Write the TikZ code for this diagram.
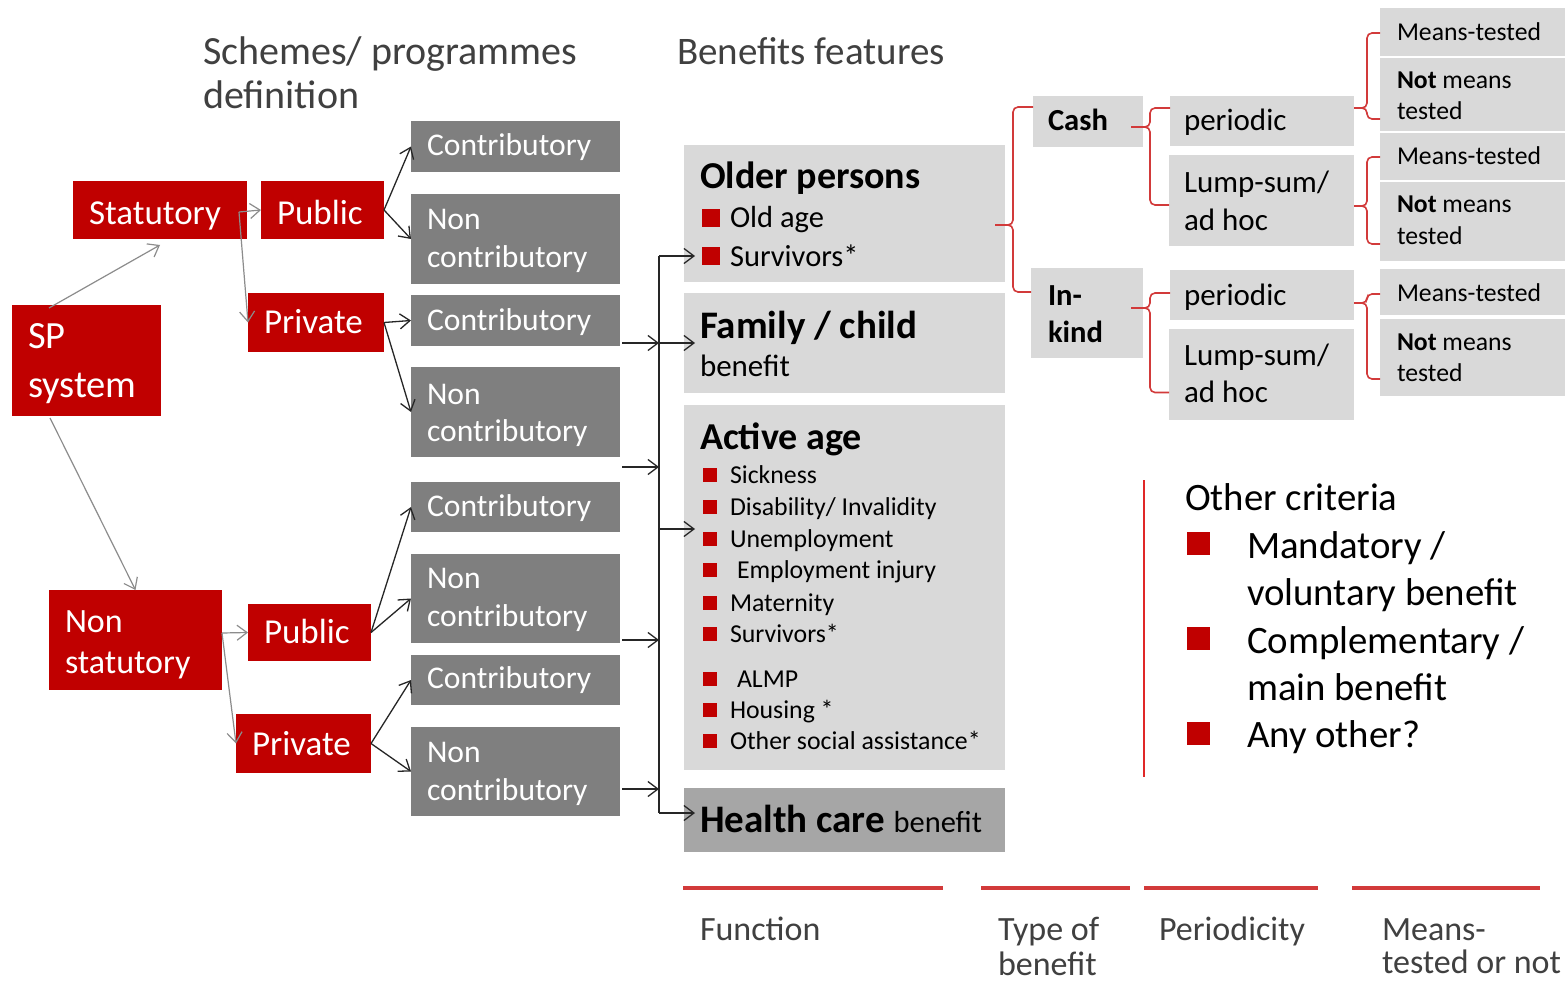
\documentclass[tikz,border=0pt]{standalone}
\usepackage{fontspec}
\setmainfont{Carlito}
\usetikzlibrary{arrows.meta,calc,fit}
\definecolor{boxred}{HTML}{C00000}
\definecolor{boxgrey}{HTML}{7F7F7F}
\definecolor{lightgrey}{HTML}{D9D9D9}
\definecolor{midgrey}{HTML}{A6A6A6}
\definecolor{brred}{HTML}{D23A3A}
\definecolor{hdr}{HTML}{404040}
\definecolor{arrgrey}{HTML}{8C8C8C}
\definecolor{sepred}{HTML}{E02828}
\newcommand\fsz[2]{\fontsize{#1}{#2}\selectfont}
\newcommand\mkbox[4]{\node[#1, fit={(#3)(#4)}] (#2) {};}
\newcommand\tl[5]{\node[#1, font=#4] (#2) at (#3) {#5};}
\tikzset{
 anybox/.style={draw=none, inner sep=0pt, outer sep=0pt},
 redbox/.style={anybox, fill=boxred},
 greybox/.style={anybox, fill=boxgrey},
 lightbox/.style={anybox, fill=lightgrey},
 healthbox/.style={anybox, fill=midgrey},
 txt/.style={anchor=base west, inner sep=0pt, outer sep=0pt, text=black},
 htxt/.style={txt, text=hdr},
 wtxt/.style={txt, text=white},
 bul/.style={fill=boxred, inner sep=0pt, outer sep=0pt, minimum size=#1, anchor=south west},
 arr/.style={draw=black!85, line width=1.3pt, -{Straight Barb[length=10pt,width=15pt,line width=1.3pt]}},
 garr/.style={draw=arrgrey, line width=1.2pt, -{Straight Barb[length=10pt,width=15pt,line width=1.2pt]}},
 trunk/.style={draw=black!85, line width=1.3pt},
 brc/.style={draw=brred, line width=1.6pt, rounded corners=5pt},
 botline/.style={draw=brred, line width=3.5pt},
 sepline/.style={draw=sepred, line width=1.2pt},
}
\begin{document}
\begin{tikzpicture}[x=1pt,y=-1pt]
\useasboundingbox (0,0) rectangle (1565,984);
\fill[white] (0,0) rectangle (1565,984);

% headers
\tl{htxt}{h1}{203,65}{\fsz{40}{43}}{Schemes/ programmes}
\tl{htxt}{h2}{203,109}{\fsz{40}{43}}{definition}
\tl{htxt}{h3}{677,65}{\fsz{39}{43}}{Benefits features}

% red boxes
\mkbox{redbox}{sp}{12,305}{161,416}
\mkbox{redbox}{stat}{73,181}{247,239}
\mkbox{redbox}{pub1}{261,181}{384,239}
\mkbox{redbox}{priv1}{248,293}{384,352}
\mkbox{redbox}{nonstat}{49,590}{222,690}
\mkbox{redbox}{pub2}{248,604}{371,661}
\mkbox{redbox}{priv2}{236,714}{371,773}
\tl{wtxt}{tsp1}{28,348}{\fsz{38.5}{46}}{SP}
\tl{wtxt}{tsp2}{28,397}{\fsz{38.5}{46}}{system}
\tl{wtxt}{tstat}{89,225}{\fsz{35}{42}}{Statutory}
\tl{wtxt}{tpub1}{277,225}{\fsz{35}{42}}{Public}
\tl{wtxt}{tpriv1}{264,333}{\fsz{35}{42}}{Private}
\tl{wtxt}{tns1}{65,632}{\fsz{34}{41}}{Non}
\tl{wtxt}{tns2}{65,673}{\fsz{34}{41}}{statutory}
\tl{wtxt}{tpub2}{264,643}{\fsz{35}{42}}{Public}
\tl{wtxt}{tpriv2}{252,755}{\fsz{35}{42}}{Private}

% grey boxes
\mkbox{greybox}{c1}{411,121}{620,172}
\mkbox{greybox}{nc1}{411,194}{620,284}
\mkbox{greybox}{c2}{411,295}{620,346}
\mkbox{greybox}{nc2}{411,367}{620,457}
\mkbox{greybox}{c3}{411,482}{620,532}
\mkbox{greybox}{nc3}{411,554}{620,643}
\mkbox{greybox}{c4}{411,655}{620,705}
\mkbox{greybox}{nc4}{411,727}{620,816}
\tl{wtxt}{tc1}{427,156}{\fsz{31.6}{38}}{Contributory}
\tl{wtxt}{tnc1a}{427,230}{\fsz{31.6}{38}}{Non}
\tl{wtxt}{tnc1b}{427,268}{\fsz{31.6}{38}}{contributory}
\tl{wtxt}{tc2}{427,330}{\fsz{31.6}{38}}{Contributory}
\tl{wtxt}{tnc2a}{427,404}{\fsz{31.6}{38}}{Non}
\tl{wtxt}{tnc2b}{427,441}{\fsz{31.6}{38}}{contributory}
\tl{wtxt}{tc3}{427,516}{\fsz{31.6}{38}}{Contributory}
\tl{wtxt}{tnc3a}{427,588}{\fsz{31.6}{38}}{Non}
\tl{wtxt}{tnc3b}{427,626}{\fsz{31.6}{38}}{contributory}
\tl{wtxt}{tc4}{427,688}{\fsz{31.6}{38}}{Contributory}
\tl{wtxt}{tnc4a}{427,762}{\fsz{31.6}{38}}{Non}
\tl{wtxt}{tnc4b}{427,800}{\fsz{31.6}{38}}{contributory}

% function boxes
\mkbox{lightbox}{older}{684,145}{1005,282}
\mkbox{lightbox}{family}{684,293}{1005,393}
\mkbox{lightbox}{active}{684,405}{1005,770}
\mkbox{healthbox}{health}{684,788}{1005,852}

\tl{txt}{told}{700,189}{\fsz{38}{44}\bfseries}{Older persons}
\node[bul=18pt] (bo1) at (702,227) {};
\tl{txt}{to1}{730,228}{\fsz{30.5}{36}}{Old age}
\node[bul=18pt] (bo2) at (702,265) {};
\tl{txt}{to2}{730,266}{\fsz{30.5}{36}}{Survivors*}

\tl{txt}{tfam}{700,338}{\fsz{39}{44}\bfseries}{Family / child}
\tl{txt}{tfam2}{700,376}{\fsz{31}{36}}{benefit}

\tl{txt}{tact}{700,449}{\fsz{38}{44}\bfseries}{Active age}
\node[bul=14pt] (ba1) at (703,482) {};
\tl{txt}{ta1}{730,483}{\fsz{25.8}{31}}{Sickness}
\node[bul=14pt] (ba2) at (703,514) {};
\tl{txt}{ta2}{730,515}{\fsz{25.8}{31}}{Disability/ Invalidity}
\node[bul=14pt] (ba3) at (703,546) {};
\tl{txt}{ta3}{730,547}{\fsz{25.8}{31}}{Unemployment}
\node[bul=14pt] (ba4) at (703,577) {};
\tl{txt}{ta4}{737,578}{\fsz{25.8}{31}}{Employment injury}
\node[bul=14pt] (ba5) at (703,610) {};
\tl{txt}{ta5}{730,611}{\fsz{25.8}{31}}{Maternity}
\node[bul=14pt] (ba6) at (703,641) {};
\tl{txt}{ta6}{730,642}{\fsz{25.8}{31}}{Survivors*}
\node[bul=14pt] (ba7) at (703,686) {};
\tl{txt}{ta7}{737,687}{\fsz{25.8}{31}}{ALMP}
\node[bul=14pt] (ba8) at (703,717) {};
\tl{txt}{ta8}{730,718}{\fsz{25.8}{31}}{Housing *}
\node[bul=14pt] (ba9) at (703,748) {};
\tl{txt}{ta9}{730,749}{\fsz{25.8}{31}}{Other social assistance*}

\tl{txt}{thealth}{700,832}{\fsz{39}{44}}{\textbf{Health care} {\fsz{30.5}{36}benefit}}

% type of benefit
\mkbox{lightbox}{cash}{1033,96}{1143,147}
\mkbox{lightbox}{inkind}{1031,268}{1143,358}
\tl{txt}{tcash}{1048,131}{\fsz{30.6}{37}\bfseries}{Cash}
\tl{txt}{tin1}{1048,305}{\fsz{30.6}{37}\bfseries}{In-}
\tl{txt}{tin2}{1048,342}{\fsz{30.6}{37}\bfseries}{kind}

% periodicity
\mkbox{lightbox}{per1}{1170,96}{1354,146}
\mkbox{lightbox}{lump1}{1169,155}{1354,246}
\mkbox{lightbox}{per2}{1170,270}{1354,320}
\mkbox{lightbox}{lump2}{1169,329}{1354,420}
\tl{txt}{tper1}{1184,131}{\fsz{31}{38}}{periodic}
\tl{txt}{tl1a}{1184,193}{\fsz{31}{38}}{Lump-sum/}
\tl{txt}{tl1b}{1184,231}{\fsz{31}{38}}{ad hoc}
\tl{txt}{tper2}{1184,305}{\fsz{31}{38}}{periodic}
\tl{txt}{tl2a}{1184,365}{\fsz{31}{38}}{Lump-sum/}
\tl{txt}{tl2b}{1184,402}{\fsz{31}{38}}{ad hoc}

% means-tested
\mkbox{lightbox}{mt1}{1380,8}{1565,56}
\mkbox{lightbox}{nmt1}{1380,58}{1565,131}
\mkbox{lightbox}{mt2}{1380,133}{1565,180}
\mkbox{lightbox}{nmt2}{1380,182}{1565,261}
\mkbox{lightbox}{mt3}{1380,269}{1565,315}
\mkbox{lightbox}{nmt3}{1380,319}{1565,396}
\tl{txt}{tmt1}{1397,41}{\fsz{25.7}{31}}{Means-tested}
\tl{txt}{tnmt1a}{1397,89}{\fsz{25.7}{31}}{\textbf{Not} means}
\tl{txt}{tnmt1b}{1397,120}{\fsz{25.7}{31}}{tested}
\tl{txt}{tmt2}{1397,165}{\fsz{25.7}{31}}{Means-tested}
\tl{txt}{tnmt2a}{1397,213}{\fsz{25.7}{31}}{\textbf{Not} means}
\tl{txt}{tnmt2b}{1397,244}{\fsz{25.7}{31}}{tested}
\tl{txt}{tmt3}{1397,301}{\fsz{25.7}{31}}{Means-tested}
\tl{txt}{tnmt3a}{1397,350}{\fsz{25.7}{31}}{\textbf{Not} means}
\tl{txt}{tnmt3b}{1397,381}{\fsz{25.7}{31}}{tested}

% grey connectors (SP level)
\draw[garr] ($(sp.north west)+(37,3)$) -- ($(stat.south)+(0,6)$);
\draw[garr] ($(sp.south west)+(38,2)$) -- (nonstat.north);
\draw[garr] ($(stat.east)+(-8,2)$) -- (pub1.west);
\draw[garr] ($(stat.east)+(-8,2)$) -- (priv1.west);
\draw[garr] ($(nonstat.east)+(0,-7)$) -- (pub2.west);
\draw[garr] ($(nonstat.east)+(0,-7)$) -- (priv2.west);

% black connectors to contribution boxes
\draw[arr] (pub1.east) -- (c1.west);
\draw[arr] (pub1.east) -- (nc1.west);
\draw[arr] (priv1.east) -- (c2.west);
\draw[arr] (priv1.east) -- (nc2.west);
\draw[arr] (pub2.east) -- (c3.west);
\draw[arr] (pub2.east) -- (nc3.west);
\draw[arr] (priv2.east) -- (c4.west);
\draw[arr] (priv2.east) -- (nc4.west);

% trunk
\coordinate (jt) at (659,256);
\coordinate (j1) at (659,343);
\coordinate (j2) at (659,467);
\coordinate (j3) at (659,529);
\coordinate (j4) at (659,640);
\coordinate (j5) at (659,789);
\coordinate (jb) at (659,813);
\draw[trunk] (jt) -- (jb);
\draw[arr] ($(c2.east)+(2,22.5)$) -- (j1);
\draw[arr] ($(nc2.east)+(2,55)$) -- (j2);
\draw[arr] ($(nc3.east)+(2,41.5)$) -- (j4);
\draw[arr] ($(nc4.east)+(2,17.5)$) -- (j5);
\draw[arr] (jt) -- ($(older.west)+(11,42.5)$);
\draw[arr] (j1) -- ($(family.west)+(11,0)$);
\draw[arr] (j3) -- ($(active.west)+(11,-58.5)$);
\draw[arr] (jb) -- ($(health.west)+(11,-7)$);

% braces
\coordinate (bt0) at ($(older.east)+(-10,11.5)$);
\draw[brc] (bt0) -- ++(18,0) |- ($(cash.west)+(0,-14.5)$);
\draw[brc] (bt0) -- ++(18,0) |- ($(inkind.west)+(0,-21)$);
\coordinate (bt1) at ($(cash.east)+(-12,5.5)$);
\draw[brc] (bt1) -- ++(19,0) |- ($(per1.west)+(0,-13)$);
\draw[brc] (bt1) -- ++(19,0) |- ($(lump1.west)+(0,4.5)$);
\coordinate (bt2) at ($(inkind.east)+(-12,-5)$);
\draw[brc] (bt2) -- ++(19,0) |- ($(per2.west)+(0,-2)$);
\draw[brc] (bt2) -- ++(19,0) |- ($(lump2.west)+(0,18)$);
\coordinate (bt3) at ($(per1.east)+(0,-13)$);
\draw[brc] (bt3) -- ++(13,0) |- ($(mt1.west)+(0,1)$);
\draw[brc] (bt3) -- ++(13,0) |- ($(nmt1.west)+(0,24.5)$);
\coordinate (bt4) at ($(lump1.east)+(0,5.5)$);
\draw[brc] (bt4) -- ++(13,0) |- ($(mt2.west)+(0,0.5)$);
\draw[brc] (bt4) -- ++(13,0) |- ($(nmt2.west)+(0,22.5)$);
\coordinate (bt5) at ($(per2.east)+(0,8)$);
\draw[brc] (bt5) -- ++(13,0) |- ($(mt3.west)+(0,2)$);
\draw[brc] (bt5) -- ++(13,0) |- ($(nmt3.west)+(0,21.5)$);

% other criteria
\draw[sepline] (1144,480) -- (1144,777);
\tl{txt}{toc}{1185,510}{\fsz{38.8}{47}}{Other criteria}
\node[bul=23pt] (bc1) at (1187,555) {};
\tl{txt}{toc1a}{1247,558}{\fsz{38.8}{47}}{Mandatory /}
\tl{txt}{toc1b}{1247,605}{\fsz{38.8}{47}}{voluntary benefit}
\node[bul=23pt] (bc2) at (1187,650) {};
\tl{txt}{toc2a}{1247,653}{\fsz{38.8}{47}}{Complementary /}
\tl{txt}{toc2b}{1247,700}{\fsz{38.8}{47}}{main benefit}
\node[bul=23pt] (bc3) at (1187,745) {};
\tl{txt}{toc3}{1247,747}{\fsz{38.8}{47}}{Any other?}

% bottom legend
\draw[botline] (683,888) -- (943,888);
\draw[botline] (981,888) -- (1130,888);
\draw[botline] (1144,888) -- (1318,888);
\draw[botline] (1352,888) -- (1540,888);
\tl{htxt}{lf}{700,940}{\fsz{34}{39}}{Function}
\tl{htxt}{lt1}{998,940}{\fsz{34}{39}}{Type of}
\tl{htxt}{lt2}{998,975}{\fsz{34}{39}}{benefit}
\tl{htxt}{lp}{1159,940}{\fsz{34}{39}}{Periodicity}
\tl{htxt}{lm1}{1382,940}{\fsz{34}{39}}{Means-}
\tl{htxt}{lm2}{1382,973}{\fsz{34}{39}}{tested or not}
\end{tikzpicture}
\end{document}
